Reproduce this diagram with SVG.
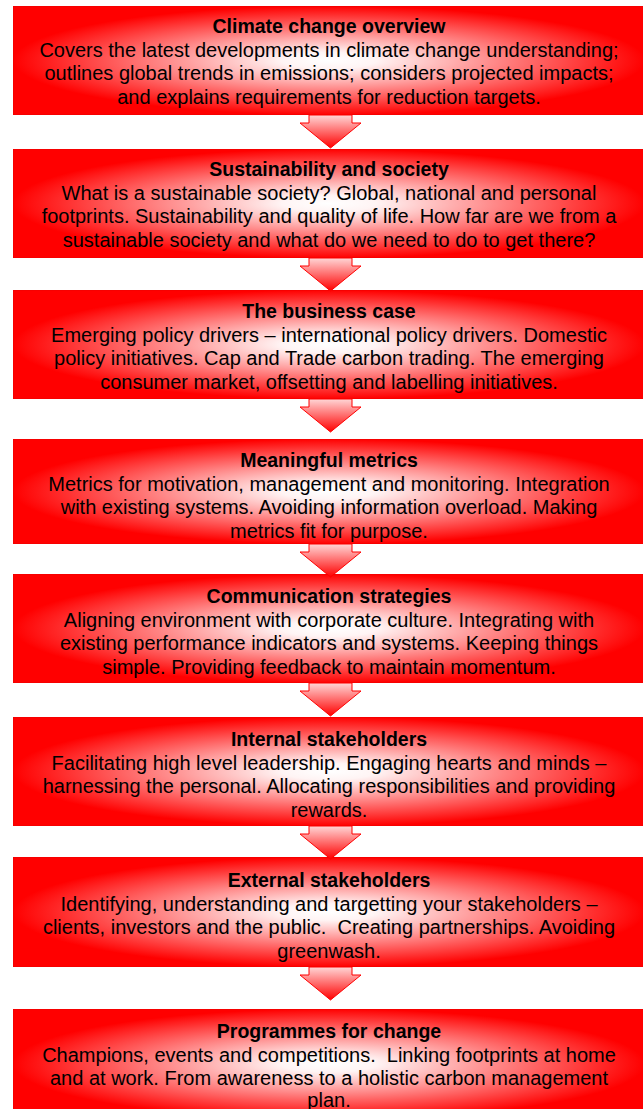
<svg xmlns="http://www.w3.org/2000/svg" width="643" height="1109" viewBox="0 0 643 1109">
<defs>
<radialGradient id="boxGrad" cx="0.5" cy="0.5" r="0.5">
<stop offset="0" stop-color="#ffffff"/>
<stop offset="0.15" stop-color="#fff4f4"/>
<stop offset="1" stop-color="#ff0000"/>
</radialGradient>
<linearGradient id="arrGrad" x1="0" y1="0" x2="0" y2="1">
<stop offset="0" stop-color="#ffd6d6"/>
<stop offset="1" stop-color="#ff0000"/>
</linearGradient>
<path id="arrow" d="M-21.5,0 H21.5 V8 H30.5 L0,33 L-30.5,8 H-21.5 Z"/>
<clipPath id="c1"><rect x="13" y="6" width="632" height="109"/></clipPath>
<clipPath id="c2"><rect x="13" y="149" width="632" height="109"/></clipPath>
<clipPath id="c3"><rect x="13" y="290" width="632" height="109"/></clipPath>
<clipPath id="c4"><rect x="13" y="439" width="632" height="105"/></clipPath>
<clipPath id="c5"><rect x="13" y="574" width="632" height="109"/></clipPath>
<clipPath id="c6"><rect x="13" y="717" width="632" height="109"/></clipPath>
<clipPath id="c7"><rect x="13" y="857" width="632" height="110"/></clipPath>
<clipPath id="c8"><rect x="13" y="1009" width="632" height="110"/></clipPath>
</defs>
<style>
.box{fill:url(#boxGrad);stroke:#ee0000;stroke-width:1}
.arr{fill:url(#arrGrad);stroke:#ff0000;stroke-width:1}
text{font-family:"Liberation Sans",Arial,sans-serif;font-size:20px;fill:#000;text-anchor:middle;white-space:pre}
.t{font-weight:bold;font-size:19.5px}
</style>
<g id="node1" clip-path="url(#c1)">
<rect class="box" x="13" y="6" width="632" height="109"/>
<text class="t" x="329" y="33">Climate change overview</text>
<text x="329" y="56.5">Covers the latest developments in climate change understanding;</text>
<text x="329" y="80.2">outlines global trends in emissions; considers projected impacts;</text>
<text x="329" y="103.9">and explains requirements for reduction targets.</text>
</g>
<g id="node2" clip-path="url(#c2)">
<rect class="box" x="13" y="149" width="632" height="109"/>
<text class="t" x="329" y="176">Sustainability and society</text>
<text x="329" y="199.5">What is a sustainable society? Global, national and personal</text>
<text x="329" y="223.2">footprints. Sustainability and quality of life. How far are we from a</text>
<text x="329" y="246.9">sustainable society and what do we need to do to get there?</text>
</g>
<g id="node3" clip-path="url(#c3)">
<rect class="box" x="13" y="290" width="632" height="109"/>
<text class="t" x="329" y="318">The business case</text>
<text x="329" y="341.5">Emerging policy drivers – international policy drivers. Domestic</text>
<text x="329" y="365.2">policy initiatives. Cap and Trade carbon trading. The emerging</text>
<text x="329" y="388.9">consumer market, offsetting and labelling initiatives.</text>
</g>
<g id="node4" clip-path="url(#c4)">
<rect class="box" x="13" y="439" width="632" height="105"/>
<text class="t" x="329" y="467">Meaningful metrics</text>
<text x="329" y="490.5">Metrics for motivation, management and monitoring. Integration</text>
<text x="329" y="514.2">with existing systems. Avoiding information overload. Making</text>
<text x="329" y="537.9">metrics fit for purpose.</text>
</g>
<g id="node5" clip-path="url(#c5)">
<rect class="box" x="13" y="574" width="632" height="109"/>
<text class="t" x="329" y="603">Communication strategies</text>
<text x="329" y="626.5">Aligning environment with corporate culture. Integrating with</text>
<text x="329" y="650.2">existing performance indicators and systems. Keeping things</text>
<text x="329" y="673.9">simple. Providing feedback to maintain momentum.</text>
</g>
<g id="node6" clip-path="url(#c6)">
<rect class="box" x="13" y="717" width="632" height="109"/>
<text class="t" x="329" y="746">Internal stakeholders</text>
<text x="329" y="769.5">Facilitating high level leadership. Engaging hearts and minds –</text>
<text x="329" y="793.2">harnessing the personal. Allocating responsibilities and providing</text>
<text x="329" y="816.9">rewards.</text>
</g>
<g id="node7" clip-path="url(#c7)">
<rect class="box" x="13" y="857" width="632" height="110"/>
<text class="t" x="329" y="887">External stakeholders</text>
<text x="329" y="910.5">Identifying, understanding and targetting your stakeholders –</text>
<text x="329" y="934.2">clients, investors and the public.  Creating partnerships. Avoiding</text>
<text x="329" y="957.9">greenwash.</text>
</g>
<g id="node8" clip-path="url(#c8)">
<rect class="box" x="13" y="1009" width="632" height="110"/>
<text class="t" x="329" y="1038">Programmes for change</text>
<text x="329" y="1061.5">Champions, events and competitions.  Linking footprints at home</text>
<text x="329" y="1085.2">and at work. From awareness to a holistic carbon management</text>
<text x="329" y="1107">plan.</text>
</g>
<g id="connectors">
<use href="#arrow" class="arr" transform="translate(330.5,115)"/>
<use href="#arrow" class="arr" transform="translate(330.5,258)"/>
<use href="#arrow" class="arr" transform="translate(330.5,399)"/>
<use href="#arrow" class="arr" transform="translate(330.5,544)"/>
<use href="#arrow" class="arr" transform="translate(330.5,683)"/>
<use href="#arrow" class="arr" transform="translate(330.5,826)"/>
<use href="#arrow" class="arr" transform="translate(330.5,967)"/>
</g>
</svg>
